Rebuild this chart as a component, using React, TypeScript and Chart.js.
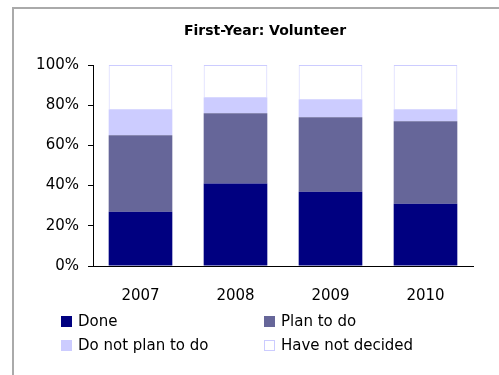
import React, { useEffect, useRef } from "react";
import { Chart, registerables } from "chart.js";

Chart.register(...registerables);

const title = "First-Year: Volunteer";
const years = ["2007", "2008", "2009", "2010"];
const done = [27, 41, 37, 31];
const planToDo = [38, 35, 37, 41];
const doNotPlan = [13, 8, 9, 6];
const notDecided = [22, 16, 17, 22];
const yTicks = [0, 20, 40, 60, 80, 100];

const FONT = "'DejaVu Sans', sans-serif";

const decorPlugin = {
  id: "decor",
  beforeDraw(chart: any) {
    const { ctx } = chart;
    ctx.save();
    ctx.strokeStyle = "#aaaaaa";
    ctx.lineWidth = 2;
    ctx.beginPath();
    ctx.moveTo(13, 380);
    ctx.lineTo(13, 8);
    ctx.lineTo(499, 8);
    ctx.stroke();
    ctx.restore();
  },
  afterDraw(chart: any) {
    const { ctx, chartArea } = chart;
    ctx.save();
    ctx.fillStyle = "#000";
    ctx.font = `bold 14px ${FONT}`;
    ctx.textAlign = "center";
    ctx.textBaseline = "middle";
    ctx.fillText(title, 265, 31);
    // legend
    ctx.font = `15px ${FONT}`;
    ctx.textAlign = "left";
    const cols = [61, 264];
    const rows = [chartArea.bottom + 56, chartArea.bottom + 80];
    chart.data.datasets.forEach((ds: any, i: number) => {
      const x = cols[i % 2];
      const y = rows[Math.floor(i / 2)];
      ctx.fillStyle = ds.backgroundColor;
      ctx.fillRect(x, y - 6, 11, 11);
      if (ds.legendBorder) {
        ctx.strokeStyle = ds.legendBorder;
        ctx.lineWidth = 1;
        ctx.strokeRect(x + 0.5, y - 5.5, 10, 10);
      }
      ctx.fillStyle = "#000";
      ctx.fillText(ds.label, x + 17, y);
    });
    ctx.restore();
  },
};

export default function App() {
  const ref = useRef<HTMLCanvasElement>(null);
  useEffect(() => {
    if (!ref.current) return;
    const chart = new Chart(ref.current, {
      type: "bar",
      data: {
        labels: years,
        datasets: [
          { label: "Done", data: done, backgroundColor: "#000080" },
          { label: "Plan to do", data: planToDo, backgroundColor: "#666699" },
          { label: "Do not plan to do", data: doNotPlan, backgroundColor: "#ccccff" },
          {
            label: "Have not decided",
            data: notDecided,
            backgroundColor: "#ffffff",
            borderColor: "#ccccff",
            borderWidth: { top: 1, left: 1, right: 1, bottom: 0 },
            legendBorder: "#ccccff",
          } as any,
        ],
      },
      options: {
        animation: false,
        responsive: false,
        maintainAspectRatio: false,
        datasets: { bar: { barPercentage: 0.67, categoryPercentage: 1 } },
        layout: { padding: { top: 65, left: 0, right: 26, bottom: 69 } },
        plugins: {
          legend: { display: false },
          title: { display: false },
          tooltip: { enabled: false },
        },
        scales: {
          x: {
            stacked: true,
            grid: { display: true, drawOnChartArea: false, drawTicks: false },
            border: { display: true, color: "#000", width: 1 },
            ticks: { color: "#000", font: { family: FONT, size: 15 }, padding: 21 },
            afterFit: (s: any) => { s.height = 40; },
          },
          y: {
            stacked: true,
            min: 0,
            max: 100,
            afterBuildTicks: (s: any) => { s.ticks = yTicks.map((v) => ({ value: v })); },
            grid: { drawOnChartArea: false, drawTicks: true, tickLength: 5, color: "#000" },
            border: { display: true, color: "#000", width: 1 },
            ticks: {
              color: "#000",
              font: { family: FONT, size: 15 },
              padding: 9,
              callback: (v: any) => `${v}%`,
            },
            afterFit: (s: any) => { s.width = 93; },
          },
        },
      },
      plugins: [decorPlugin],
    });
    return () => chart.destroy();
  }, []);
  return (
    <div style={{ position: "fixed", left: 0, top: 0, width: 499, height: 375, background: "#fff" }}>
      <canvas ref={ref} width={499} height={375} style={{ width: 499, height: 375 }} />
    </div>
  );
}
